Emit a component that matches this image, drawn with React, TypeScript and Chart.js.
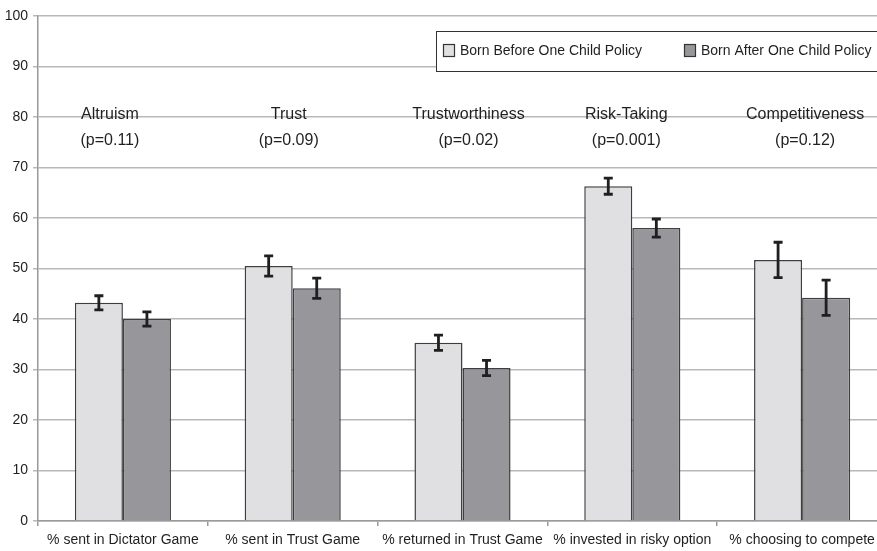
import React, { useEffect, useRef } from "react";
import { Chart, registerables } from "chart.js";

Chart.register(...registerables);

const categories = [
  "% sent in Dictator Game",
  "% sent in Trust Game",
  "% returned in Trust Game",
  "% invested in risky option",
  "% choosing to compete",
];
const traitNames = ["Altruism", "Trust", "Trustworthiness", "Risk-Taking", "Competitiveness"];
const pValues = ["(p=0.11)", "(p=0.09)", "(p=0.02)", "(p=0.001)", "(p=0.12)"];

const seriesNames = ["Born Before One Child Policy", "Born After One Child Policy"];
const bornBefore = [43.2, 50.5, 35.3, 66.3, 51.7];
const bornAfter = [40.0, 46.1, 30.3, 58.0, 44.2];
const errBefore = [1.4, 2.0, 1.5, 1.6, 3.5];
const errAfter = [1.4, 2.0, 1.5, 1.8, 3.5];

const yTicks = [0, 10, 20, 30, 40, 50, 60, 70, 80, 90, 100];

const LIGHT = "#e0e0e2";
const DARK = "#97979b";
const EDGE = "#3e3e3e";
const INK = "#1f1f1f";
const FONT = "'Liberation Sans', Arial, Helvetica, sans-serif";

// horizontal nudges for the trait headings above each group
const headingNudge = [-13, -4, 6, -6, 3];

const errorBarsPlugin = {
  id: "errorBars",
  afterDatasetsDraw(chart: any) {
    const ctx = chart.ctx;
    const y = chart.scales.y;
    const errs = [errBefore, errAfter];
    ctx.save();
    ctx.strokeStyle = INK;
    ctx.lineWidth = 2.8;
    chart.data.datasets.forEach((ds: any, di: number) => {
      const meta = chart.getDatasetMeta(di);
      meta.data.forEach((bar: any, i: number) => {
        const v = ds.data[i];
        const e = errs[di][i];
        const x = bar.x;
        const top = y.getPixelForValue(v + e);
        const bot = y.getPixelForValue(v - e);
        ctx.beginPath();
        ctx.moveTo(x, top);
        ctx.lineTo(x, bot);
        ctx.moveTo(x - 4.5, top);
        ctx.lineTo(x + 4.5, top);
        ctx.moveTo(x - 4.5, bot);
        ctx.lineTo(x + 4.5, bot);
        ctx.stroke();
      });
    });
    ctx.restore();
  },
};

const annotationsPlugin = {
  id: "traitHeadings",
  afterDraw(chart: any) {
    const ctx = chart.ctx;
    const xs = chart.scales.x;
    const ys = chart.scales.y;
    ctx.save();
    ctx.fillStyle = INK;
    ctx.textAlign = "center";
    ctx.textBaseline = "middle";
    ctx.font = `16px ${FONT}`;
    traitNames.forEach((name, i) => {
      const x = xs.getPixelForValue(i) + headingNudge[i];
      ctx.fillText(name, x, ys.getPixelForValue(80.5));
      ctx.fillText(pValues[i], x, ys.getPixelForValue(75.3));
    });

    // legend box
    const bx = 436.5;
    const by = 31.5;
    const bw = 448;
    const bh = 40;
    ctx.fillStyle = "#ffffff";
    ctx.fillRect(bx, by, bw, bh);
    ctx.strokeStyle = "#333";
    ctx.lineWidth = 1;
    ctx.strokeRect(bx, by, bw, bh);
    ctx.font = `14px ${FONT}`;
    ctx.textAlign = "left";
    const items = [
      { x: 443, color: LIGHT, label: seriesNames[0] },
      { x: 684, color: DARK, label: seriesNames[1] },
    ];
    items.forEach((it) => {
      ctx.fillStyle = it.color;
      ctx.fillRect(it.x + 0.5, 44.5, 11, 12);
      ctx.strokeStyle = "#333";
      ctx.lineWidth = 1.2;
      ctx.strokeRect(it.x + 0.5, 44.5, 11, 12);
      ctx.fillStyle = INK;
      ctx.fillText(it.label, it.x + 17, 51);
    });
    ctx.restore();
  },
};

export default function App() {
  const canvasRef = useRef<HTMLCanvasElement | null>(null);

  useEffect(() => {
    if (!canvasRef.current) return;
    const chart = new Chart(canvasRef.current, {
      type: "bar",
      data: {
        labels: categories,
        datasets: [
          {
            label: seriesNames[0],
            data: bornBefore,
            backgroundColor: LIGHT,
            borderColor: EDGE,
            borderWidth: 1.5,
            categoryPercentage: 0.566,
            barPercentage: 1,
          },
          {
            label: seriesNames[1],
            data: bornAfter,
            backgroundColor: DARK,
            borderColor: EDGE,
            borderWidth: 1.5,
            categoryPercentage: 0.566,
            barPercentage: 1,
          },
        ],
      },
      options: {
        animation: false,
        responsive: false,
        maintainAspectRatio: false,
        layout: { padding: { top: 16, left: 0, right: 0, bottom: 0 } },
        plugins: {
          legend: { display: false },
          tooltip: { enabled: false },
        },
        scales: {
          x: {
            grid: {
              offset: true,
              drawOnChartArea: false,
              drawTicks: true,
              tickLength: 5,
              color: "#9a9a9a",
              lineWidth: 1.5,
            },
            border: { color: "#9a9a9a", width: 1.5 },
            ticks: {
              color: INK,
              font: { family: FONT, size: 14 },
              padding: 6,
              maxRotation: 0,
              autoSkip: false,
            },
            afterFit(scale: any) {
              scale.height = 30;
            },
          },
          y: {
            min: 0,
            max: 100,
            afterBuildTicks(scale: any) {
              scale.ticks = yTicks.map((v) => ({ value: v }));
            },
            grid: {
              color: "#b8b8b8",
              lineWidth: 1.5,
              tickLength: 5,
            },
            border: { color: "#9a9a9a", width: 1.5 },
            ticks: {
              color: INK,
              font: { family: FONT, size: 14 },
              padding: 5,
            },
            afterFit(scale: any) {
              scale.width = 38;
            },
          },
        },
      },
      plugins: [errorBarsPlugin, annotationsPlugin],
    });
    return () => chart.destroy();
  }, []);

  return (
    <div
      style={{
        position: "fixed",
        left: 0,
        top: 0,
        width: 877,
        height: 551,
        overflow: "hidden",
        background: "#fff",
      }}
    >
      <canvas ref={canvasRef} width={887} height={551} style={{ display: "block" }} />
    </div>
  );
}
